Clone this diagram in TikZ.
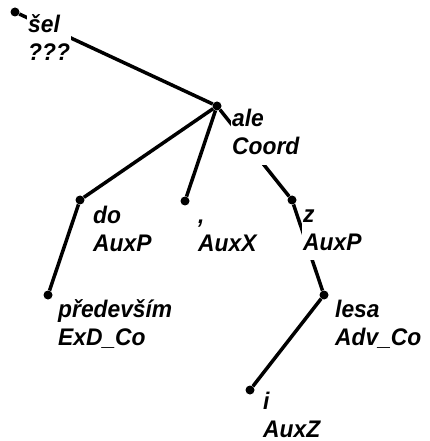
\documentclass[tikz,border=0pt]{standalone}
\usepackage{fontspec}
\setmainfont{Liberation Sans}[FakeStretch=0.95]
\begin{document}
\begin{tikzpicture}[x=1bp,y=-1bp,
  dot/.style={circle,fill=black,inner sep=0pt,minimum size=9bp},
  edge/.style={line width=3.5bp,black},
  lbl/.style={anchor=base west,fill=white,inner sep=1.5bp,
    font=\fontsize{24bp}{28bp}\selectfont\bfseries\itshape}]
\path[use as bounding box,fill=white] (0,0) rectangle (429,441);
% dots
\node[dot] (sel) at (15,12) {};
\node[dot] (ale) at (217,106) {};
\node[dot] (do) at (80,200) {};
\node[dot] (comma) at (185,201) {};
\node[dot] (z) at (292,200) {};
\node[dot] (pred) at (48,295) {};
\node[dot] (lesa) at (324,295) {};
\node[dot] (i) at (250,390) {};
% edges
\draw[edge] (sel) -- (ale);
\draw[edge] (ale) -- (do);
\draw[edge] (ale) -- (comma);
\draw[edge] (ale) -- (z);
\draw[edge] (do) -- (pred);
\draw[edge] (z) -- (lesa);
\draw[edge] (lesa) -- (i);
% labels
\node[lbl] (selL) at (26.5,33) {\begin{tabular}[t]{@{}l@{}}šel\\???\end{tabular}};
\node[lbl] (aleL) at (230.5,127) {\begin{tabular}[t]{@{}l@{}}ale\\Coord\end{tabular}};
\node[lbl] (doL) at (91.5,223) {\begin{tabular}[t]{@{}l@{}}do\\AuxP\end{tabular}};
\node[lbl] (commaL) at (196.5,223) {\begin{tabular}[t]{@{}l@{}},\\AuxX\end{tabular}};
\node[lbl] (zL) at (301.5,222) {\begin{tabular}[t]{@{}l@{}}z\\AuxP\end{tabular}};
\node[lbl] (predL) at (56.5,317) {\begin{tabular}[t]{@{}l@{}}především\\ExD\_Co\end{tabular}};
\node[lbl] (lesaL) at (333.5,317) {\begin{tabular}[t]{@{}l@{}}lesa\\Adv\_Co\end{tabular}};
\node[lbl] (iL) at (261.5,409) {\begin{tabular}[t]{@{}l@{}}i\\AuxZ\end{tabular}};
\end{tikzpicture}
\end{document}
